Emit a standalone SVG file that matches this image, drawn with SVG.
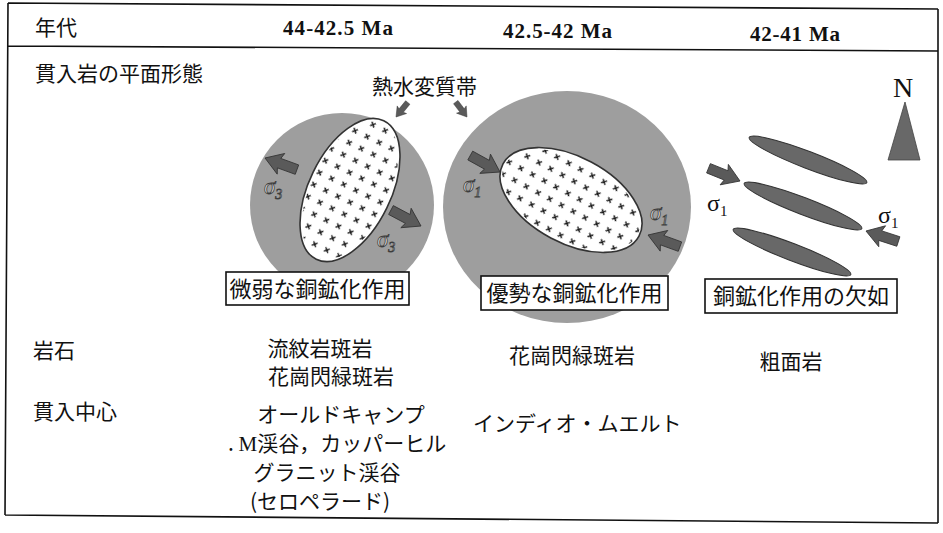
<svg xmlns="http://www.w3.org/2000/svg" width="943" height="533" viewBox="0 0 943 533">
<style>
.jp{font-family:"Noto Sans CJK JP","Noto Sans",sans-serif;font-size:21px;fill:#111}
.bx{font-family:"Noto Sans CJK JP","Noto Sans",sans-serif;font-size:22px;fill:#111;text-anchor:middle}
.num{font-family:"Liberation Serif",serif;font-size:21px;font-weight:bold;fill:#111}
.frame{stroke:#111;stroke-width:1.6;fill:none}
.box{fill:#fff;stroke:#111;stroke-width:1.6}
.zone{fill:#9e9e9e}
.core{fill:#fff;stroke:#333;stroke-width:1.6}
.dike{fill:#686868;stroke:#333;stroke-width:1}
.arr{fill:#5a5a5a;stroke:#333;stroke-width:0.8}
.sg{font-family:"Liberation Serif",serif;font-style:italic;font-size:23px;fill:#dcdcdc;stroke:#3c3c3c;stroke-width:0.8}
.sgb{font-family:"Liberation Serif",serif;font-size:24px;fill:#111}
</style>
<defs>
<pattern id="xs" width="13.3" height="13.5" patternUnits="userSpaceOnUse">
<path d="M4.3,4.3 l4.4,4.4 M8.7,4.3 l-4.4,4.4" stroke="#1a1a1a" stroke-width="1.5"/>
</pattern>
<path id="ar" d="M0,0 L-17,-11 L-15,-5 L-34,-5 L-34,5 L-15,5 L-17,11 Z"/>
</defs>

<g id="frame">
<path class="frame" d="M8,3 L938,9 M8,46 L938,51 M8,3 L5,515 M5,515 L938,523 M938,9 L938,523"/>
</g>

<g id="header">
<text class="jp" x="35" y="35">年代</text>
<text class="num" x="283" y="35" textLength="110">44-42.5 Ma</text>
<text class="num" x="503" y="38" textLength="109">42.5-42 Ma</text>
<text class="num" x="750" y="41" textLength="90">42-41 Ma</text>
</g>

<g id="row-labels">
<text class="jp" x="35" y="81">貫入岩の平面形態</text>
<text class="jp" x="33" y="358">岩石</text>
<text class="jp" x="33" y="419">貫入中心</text>
</g>

<g id="alteration-label">
<text class="jp" x="372" y="94">熱水変質帯</text>
</g>

<g id="stage1">
<circle class="zone" cx="342" cy="205" r="92"/>
<ellipse class="core" cx="350" cy="190" rx="77" ry="41" transform="rotate(-64 350 190)"/>
<ellipse cx="350" cy="190" rx="75" ry="39" fill="url(#xs)" transform="rotate(-64 350 190)"/>
<use href="#ar" class="arr" transform="translate(265,158) rotate(200)"/>
<use href="#ar" class="arr" transform="translate(421,226) rotate(28)"/>
<text class="sg" x="264" y="194">σ<tspan font-size="14" dy="5">3</tspan></text>
<text class="sg" x="377" y="247">σ<tspan font-size="14" dy="5">3</tspan></text>
<rect class="box" x="226" y="272" width="183" height="33"/>
<text class="bx" x="317.5" y="297">微弱な銅鉱化作用</text>
</g>

<g id="stage2">
<ellipse class="zone" cx="567" cy="207" rx="124" ry="116"/>
<ellipse class="core" cx="571" cy="200" rx="77" ry="43" transform="rotate(28 571 200)"/>
<ellipse cx="571" cy="200" rx="75" ry="41" fill="url(#xs)" transform="rotate(28 571 200)"/>
<use href="#ar" class="arr" transform="translate(500,172) rotate(29)"/>
<use href="#ar" class="arr" transform="translate(648,235) rotate(200)"/>
<text class="sg" x="463" y="192">σ<tspan font-size="14" dy="5">1</tspan></text>
<text class="sg" x="650" y="220">σ<tspan font-size="14" dy="5">1</tspan></text>
<rect class="box" x="481" y="276" width="187" height="34"/>
<text class="bx" x="574.5" y="301">優勢な銅鉱化作用</text>
</g>

<g id="stage3">
<ellipse class="dike" cx="808" cy="160" rx="63" ry="8.5" transform="rotate(21 808 160)"/>
<ellipse class="dike" cx="803" cy="206" rx="63" ry="8.5" transform="rotate(21 803 206)"/>
<ellipse class="dike" cx="792" cy="252" rx="63" ry="8.5" transform="rotate(21 792 252)"/>
<use href="#ar" class="arr" transform="translate(740,181) rotate(22)"/>
<use href="#ar" class="arr" transform="translate(866,231) rotate(198)"/>
<text class="sgb" x="707" y="211">σ<tspan font-size="15" dy="5">1</tspan></text>
<text class="sgb" x="878" y="223">σ<tspan font-size="15" dy="5">1</tspan></text>
<rect class="box" x="705" y="279" width="192" height="34"/>
<text class="bx" x="801" y="304">銅鉱化作用の欠如</text>
</g>

<g id="north">
<text x="903" y="97" font-family="Liberation Serif,serif" font-size="28" text-anchor="middle" fill="#111">N</text>
<path d="M905,102 L888,160 L920,160 Z" fill="#686868" stroke="#444" stroke-width="0.8"/>
</g>

<g id="connectors">
<use href="#ar" class="arr" transform="translate(396,117) rotate(129) scale(0.55)"/>
<use href="#ar" class="arr" transform="translate(467,117) rotate(53) scale(0.55)"/>
</g>

<g id="rocks">
<text class="jp" x="320" y="356" text-anchor="middle">流紋岩斑岩</text>
<text class="jp" x="331" y="384" text-anchor="middle">花崗閃緑斑岩</text>
<text class="jp" x="572" y="363" text-anchor="middle">花崗閃緑斑岩</text>
<text class="jp" x="791" y="369" text-anchor="middle">粗面岩</text>
</g>

<g id="centers">
<text class="jp" x="341" y="422" text-anchor="middle">オールドキャンプ</text>
<text class="jp" x="228" y="451">. <tspan font-family="Liberation Serif,serif">M</tspan>渓谷，カッパーヒル</text>
<text class="jp" x="327" y="480" text-anchor="middle">グラニット渓谷</text>
<text class="jp" x="320" y="509" text-anchor="middle">(セロペラード)</text>
<text class="jp" x="473" y="431">インディオ・ムエルト</text>
</g>
</svg>
